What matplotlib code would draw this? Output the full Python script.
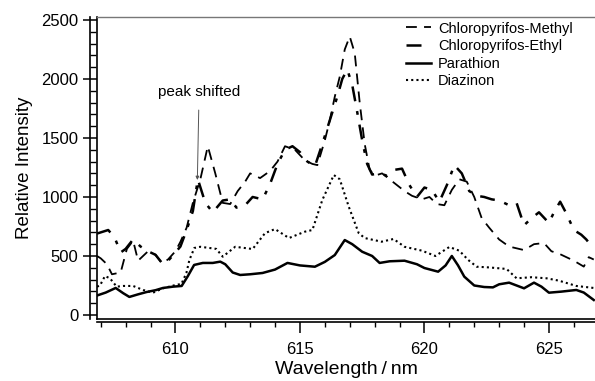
import matplotlib
matplotlib.use("Agg")
import matplotlib.pyplot as plt
from matplotlib.ticker import MultipleLocator, FixedLocator

plt.rcParams['font.family'] = ['Liberation Sans', 'DejaVu Sans']

# ---- data ----
methyl_x = [606.85, 607.0, 607.25, 607.45, 607.8, 608.05, 608.3, 608.5, 608.9, 609.2, 609.45, 609.7,
            610.0, 610.2, 610.45, 610.7, 611.0, 611.3, 611.6, 611.9, 612.2, 612.5, 612.8, 613.0, 613.4,
            613.8, 614.1, 614.4, 614.8, 615.2, 615.5, 615.7, 616.0, 616.2, 616.4, 616.6, 616.8, 617.0,
            617.2, 617.4, 617.6, 617.8, 618.0, 618.3, 618.6, 618.9, 619.2, 619.5, 619.9, 620.2, 620.5,
            620.8, 621.1, 621.4, 621.7, 622.0, 622.3, 622.6, 623.0, 623.4, 624.0, 624.4, 624.8, 625.1,
            625.4, 625.7, 626.0, 626.4, 626.6, 626.8]
methyl_y = [500, 480, 430, 345, 360, 560, 630, 460, 540, 510, 440, 470,
            540, 620, 740, 950, 1150, 1430, 1200, 950, 940, 1050, 1130, 1200, 1160,
            1220, 1300, 1430, 1400, 1310, 1280, 1270, 1480, 1650, 1850, 2020, 2250, 2360,
            2220, 1800, 1450, 1230, 1180, 1200, 1150, 1100, 1050, 1010, 980, 1000, 940,
            930, 1060, 1150, 1130, 1000, 820, 740, 640, 580, 550, 600, 610, 540,
            520, 490, 460, 410, 490, 470]

ethyl_x = [606.85, 607.0, 607.3, 607.55, 607.8, 608.0, 608.3, 608.6, 608.9, 609.2, 609.5, 609.75,
           610.0, 610.2, 610.45, 610.7, 610.9, 611.2, 611.5, 611.9, 612.2, 612.45, 612.8, 613.1, 613.5,
           613.8, 614.1, 614.4, 614.7, 615.0, 615.3, 615.6, 615.9, 616.2, 616.5, 616.7, 616.9, 617.1,
           617.3, 617.5, 617.7, 617.9, 618.2, 618.5, 618.8, 619.1, 619.4, 619.7, 620.0, 620.3, 620.6,
           620.9, 621.2, 621.5, 621.8, 622.1, 622.4, 622.7, 623.0, 623.4, 623.7, 624.0, 624.3, 624.6,
           625.0, 625.2, 625.45, 625.7, 626.0, 626.3, 626.5, 626.8]
ethyl_y = [690, 700, 720, 660, 530, 560, 640, 580, 540, 510, 430, 470,
           530, 580, 720, 880, 1150, 950, 870, 970, 980, 910, 930, 1000, 980,
           1110, 1280, 1400, 1430, 1380, 1300, 1260, 1450, 1650, 1850, 2000, 2080, 1950,
           1720, 1480, 1280, 1190, 1200, 1180, 1230, 1240, 1100, 1000, 1080, 1060, 960,
           1100, 1270, 1200, 1050, 1010, 1000, 980, 970, 930, 950, 760, 820, 870,
           780, 870, 960, 860, 720, 680, 640, 560]

parathion_x = [606.85, 607.2, 607.6, 607.9, 608.15, 608.5, 608.85, 609.2, 609.5, 609.9, 610.25, 610.5,
               610.75, 611.1, 611.5, 611.8, 612.0, 612.3, 612.6, 613.0, 613.5, 614.0, 614.5, 615.0,
               615.6, 616.0, 616.4, 616.8, 617.1, 617.5, 617.9, 618.2, 618.6, 619.2, 619.7, 620.0,
               620.55, 620.85, 621.1, 621.35, 621.6, 622.0, 622.4, 622.75, 623.0, 623.4, 624.0, 624.4,
               624.7, 625.0, 625.5, 626.1, 626.4, 626.8]
parathion_y = [165, 190, 229, 185, 153, 175, 195, 210, 229, 240, 246, 330,
               424, 441, 441, 452, 430, 360, 339, 345, 356, 385, 441, 420,
               409, 450, 508, 635, 600, 536, 500, 441, 455, 460, 430, 398,
               367, 420, 500, 420, 325, 250, 237, 234, 260, 274, 226, 274,
               240, 189, 198, 212, 190, 127]

diazinon_x = [606.85, 606.97, 607.17, 607.37, 607.64, 607.9, 608.3, 608.7, 609.1, 609.5, 610.0, 610.24,
              610.44, 610.56, 610.76, 611.0, 611.36, 611.64, 611.9, 612.4, 613.1, 613.6, 614.0, 614.56,
              615.2, 615.5, 615.9, 616.36, 616.6, 616.96, 617.36, 617.6, 618.28, 618.76, 619.2, 619.9,
              620.44, 621.0, 621.4, 621.76, 622.1, 622.6, 623.3, 623.7, 624.3, 624.9, 625.4, 626.1, 626.8]
diazinon_y = [240, 250, 330, 311, 240, 246, 246, 212, 189, 226, 254, 263,
              356, 466, 568, 578, 568, 560, 494, 578, 559, 694, 728, 652,
              706, 720, 975, 1186, 1150, 918, 694, 652, 621, 644, 578, 545,
              500, 576, 545, 466, 409, 403, 390, 311, 320, 311, 291, 246, 229]

series_labels = ["Chloropyrifos-Methyl", "Chloropyrifos-Ethyl", "Parathion", "Diazinon"]
x_major_ticks = [610, 615, 620, 625]
y_major_ticks = [0, 500, 1000, 1500, 2000, 2500]

# ---- figure ----
fig = plt.figure(figsize=(5.95, 3.81), dpi=100)
ax = fig.add_axes([97/595, 62/381, 498/595, 302/381])

ax.plot(methyl_x, methyl_y, color='black', lw=1.3, linestyle=(0, (6, 4)), label=series_labels[0])
ax.plot(ethyl_x, ethyl_y, color='black', lw=1.8, linestyle=(0, (6, 4, 1.5, 4)), label=series_labels[1])
ax.plot(parathion_x, parathion_y, color='black', lw=1.8, linestyle='-', label=series_labels[2])
ax.plot(diazinon_x, diazinon_y, color='black', lw=1.5, linestyle=(0, (1, 1.5)), label=series_labels[3])

ax.set_xlim(606.85, 626.85)
ax.set_ylim(-34, 2525)

# box edges
ax.plot([0, 0], [0, 1], transform=ax.transAxes, color='black', lw=1.2, clip_on=False)
ax.plot([0, 1], [0, 0], transform=ax.transAxes, color='black', lw=1.2, clip_on=False)

ax.spines['right'].set_visible(False)
ax.spines['top'].set_color('#777777')
ax.spines['top'].set_linestyle((0, (1, 1)))
ax.spines['top'].set_linewidth(1.0)
ax.spines['left'].set_position(('outward', 4.7))
ax.spines['bottom'].set_position(('outward', 2.4))
ax.spines['left'].set_linewidth(1.2)
ax.spines['bottom'].set_linewidth(1.2)

ax.xaxis.set_major_locator(FixedLocator(x_major_ticks))
ax.xaxis.set_minor_locator(MultipleLocator(1))
ax.yaxis.set_major_locator(FixedLocator(y_major_ticks))
ax.yaxis.set_minor_locator(MultipleLocator(100))

ax.tick_params(axis='y', which='major', direction='inout', length=9.4, width=1.1, labelsize=12, pad=4)
ax.tick_params(axis='y', which='minor', direction='in', length=4.5, width=1.0)
ax.tick_params(axis='x', which='major', direction='out', length=8, width=1.1, labelsize=12, pad=6)
ax.tick_params(axis='x', which='minor', direction='out', length=3.6, width=1.0)

ax.set_ylabel("Relative Intensity", fontsize=13.5, labelpad=6)
ax.set_xlabel("Wavelength\u2009/\u2009nm", fontsize=14, labelpad=3)

ax.annotate("peak shifted", xy=(610.88, 1144), xytext=(610.95, 1890),
            ha='center', va='center', fontsize=11,
            arrowprops=dict(arrowstyle='-|>', color='#555555', lw=0.7,
                            mutation_scale=5, shrinkA=6, shrinkB=0))

leg = ax.legend(loc='upper left', bbox_to_anchor=(0.62, 0.985), frameon=False,
                fontsize=10.5, handlelength=1.7, handletextpad=0.5, labelspacing=0.25,
                borderaxespad=0, borderpad=0)

fig.savefig("out.png", dpi=100)
